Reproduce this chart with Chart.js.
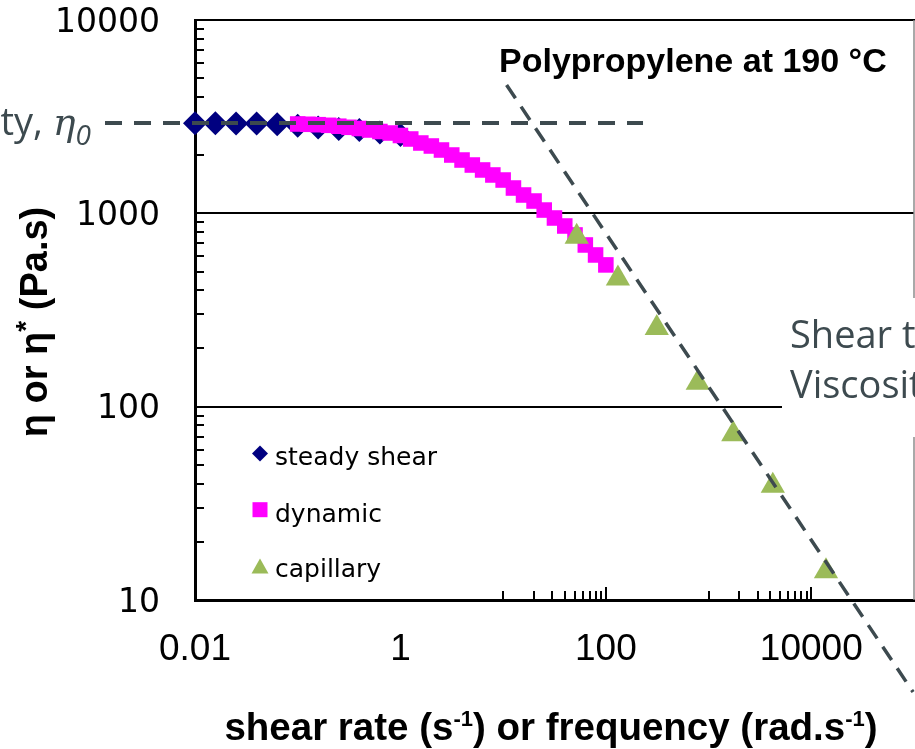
<!DOCTYPE html>
<html><head><meta charset="utf-8">
<script src="https://cdn.jsdelivr.net/npm/chart.js@4.4.0/dist/chart.umd.min.js"></script>
<style>html,body{margin:0;padding:0;background:#fff;overflow:hidden}#wrap{position:relative;width:915px;height:749px}</style>
</head><body><div id="wrap"><canvas id="c"></canvas></div>
<script>
// ---- data ----
const seriesNames = ['steady shear', 'dynamic', 'capillary'];
const steadyRate = [0.01, 0.0158, 0.0251, 0.0398, 0.0631, 0.1, 0.158, 0.251, 0.398, 0.631, 1];
const steadyVisc = [2922, 2922, 2918, 2911, 2891, 2836, 2780, 2731, 2698, 2619, 2542];
const dynamicFreq = [0.1, 0.126, 0.158, 0.2, 0.251, 0.316, 0.398, 0.501, 0.631, 0.794, 1, 1.26, 1.58, 2, 2.51, 3.16, 3.98, 5.01, 6.31, 7.94, 10, 12.6, 15.8, 20, 25.1, 31.6, 39.8, 50.1, 63.1, 79.4, 100];
const dynamicVisc = [2898, 2888, 2874, 2853, 2823, 2786, 2747, 2698, 2650, 2603, 2527, 2424, 2311, 2230, 2126, 2003, 1887, 1778, 1676, 1579, 1487, 1352, 1244, 1158, 1040, 946, 860, 773, 686, 609, 541];
const capRate = [52, 131, 313, 785, 1740, 4220, 13900];
const capVisc = [757, 460, 255, 133, 72, 39, 14.1];
const zeroShearX = [0.00133, 230];
const zeroShearY = [2930, 2930];
const powerLawX = [10.8, 98000];
const powerLawY = [4610, 3.34];
const xTickValues = [0.01, 1, 100, 10000];
const xTickLabels = ['0.01', '1', '100', '10000'];
const yTickValues = [10, 100, 1000, 10000];
const yTickLabels = ['10', '100', '1000', '10000'];
const xMinorDecades = [10, 1000];
const yMinorDecades = [10, 100, 1000];
const titleText = 'Polypropylene at 190 \u00B0C';
const zeroShearLabel = 'Zero shear viscosity, ';
const thinningLines = ['Shear thinning', 'Viscosity'];

const annColor = '#3d4a4f';
const colors = ['#000080', '#FF00FF', '#9BBB59'];

const pts = (xs, ys) => xs.map((v, i) => ({x: v, y: ys[i]}));

function drawRuns(ctx, runs, x, y, align) {
  let total = 0;
  for (const r of runs) { ctx.font = r.font; r.w = ctx.measureText(r.text).width; total += r.w; }
  let cx = align === 'right' ? x - total : align === 'center' ? x - total / 2 : x;
  ctx.textAlign = 'left';
  ctx.textBaseline = 'alphabetic';
  for (const r of runs) { ctx.font = r.font; ctx.fillText(r.text, cx, y + (r.dy || 0)); cx += r.w; }
}

const noPad = s => { s.paddingTop = 0; s.paddingBottom = 0; s.paddingLeft = 0; s.paddingRight = 0; };

const deco = {
  id: 'deco',
  beforeDatasetsDraw(chart) {
    const {ctx, chartArea: a, scales: {x, y}} = chart;
    ctx.save();
    ctx.strokeStyle = '#000'; ctx.lineWidth = 2;
    ctx.beginPath(); ctx.moveTo(a.left, a.top); ctx.lineTo(a.right + 1, a.top); ctx.stroke();
    ctx.strokeStyle = '#8c8c8c'; ctx.lineWidth = 1.5;
    ctx.beginPath(); ctx.moveTo(a.right, a.top); ctx.lineTo(a.right, a.bottom); ctx.stroke();
    ctx.strokeStyle = '#000'; ctx.lineWidth = 2;
    ctx.beginPath();
    for (const d of yMinorDecades) for (let k = 2; k <= 9; k++) {
      const py = Math.round(y.getPixelForValue(d * k));
      ctx.moveTo(a.left, py); ctx.lineTo(a.left + 9, py);
    }
    for (const d of xMinorDecades) for (let k = 1; k <= 10; k++) {
      const px = Math.round(x.getPixelForValue(d * k));
      const len = k === 10 ? 13 : 9;
      ctx.moveTo(px, a.bottom); ctx.lineTo(px, a.bottom - len);
    }
    ctx.stroke();
    ctx.restore();
  },
  afterDraw(chart) {
    const {ctx} = chart;
    ctx.save();
    // text box background for shear thinning label
    ctx.fillStyle = '#fff';
    ctx.fillRect(782, 298, 140, 139);
    ctx.fillStyle = annColor;
    ctx.font = '38px "Open Sans"';
    ctx.textAlign = 'left'; ctx.textBaseline = 'alphabetic';
    ctx.fillText(thinningLines[0], 790, 348);
    ctx.fillText(thinningLines[1], 790, 398);
    // zero shear label
    drawRuns(ctx, [
      {text: zeroShearLabel, font: '38px "Open Sans"'},
      {text: '\u03B7', font: 'italic 38px "DejaVu Serif"'},
      {text: '0', font: 'italic 28px "Open Sans"', dy: 10}
    ], 91, 135, 'right');
    // title
    ctx.fillStyle = '#000';
    drawRuns(ctx, [{text: titleText, font: 'bold 34px "Liberation Sans"'}], 499, 72, 'left');
    // x axis title
    drawRuns(ctx, [
      {text: 'shear rate (s', font: 'bold 38.5px "Liberation Sans"'},
      {text: '-1', font: 'bold 22px "Liberation Sans"', dy: -14},
      {text: ') or frequency (rad.s', font: 'bold 38.5px "Liberation Sans"'},
      {text: '-1', font: 'bold 22px "Liberation Sans"', dy: -14},
      {text: ')', font: 'bold 38.5px "Liberation Sans"'}
    ], 551, 740, 'center');
    // y axis title
    ctx.save();
    ctx.translate(47, 322);
    ctx.rotate(-Math.PI / 2);
    drawRuns(ctx, [
      {text: '\u03B7 or \u03B7', font: 'bold 38px "Liberation Sans"'},
      {text: '*', font: 'bold 28px "Liberation Sans"', dy: -12},
      {text: ' (Pa.s)', font: 'bold 38px "Liberation Sans"'}
    ], 0, 0, 'center');
    ctx.restore();
    // legend
    const lx = 260, rows = [453.5, 509.7, 566.5], base = [465, 522, 577];
    ctx.fillStyle = colors[0];
    ctx.beginPath(); ctx.moveTo(lx - 8, rows[0]); ctx.lineTo(lx, rows[0] - 8); ctx.lineTo(lx + 8, rows[0]); ctx.lineTo(lx, rows[0] + 8); ctx.closePath(); ctx.fill();
    ctx.fillStyle = colors[1];
    ctx.fillRect(lx - 7.5, rows[1] - 7.5, 15, 15);
    ctx.fillStyle = colors[2];
    ctx.beginPath(); ctx.moveTo(lx, rows[2] - 8); ctx.lineTo(lx + 8.5, rows[2] + 7); ctx.lineTo(lx - 8.5, rows[2] + 7); ctx.closePath(); ctx.fill();
    ctx.fillStyle = '#000';
    ctx.font = '25px "DejaVu Sans"';
    ctx.textAlign = 'left'; ctx.textBaseline = 'alphabetic';
    seriesNames.forEach((n, i) => ctx.fillText(n, 275, base[i]));
    ctx.restore();
  }
};

new Chart(document.getElementById('c'), {
  type: 'scatter',
  data: {
    datasets: [
      {label: 'zero shear', data: pts(zeroShearX, zeroShearY), showLine: true, borderColor: annColor, borderWidth: 4, borderDash: [17, 12], pointRadius: 0, clip: false, order: 0},
      {label: 'power law', data: pts(powerLawX, powerLawY), showLine: true, borderColor: annColor, borderWidth: 3.5, borderDash: [16, 10], pointRadius: 0, clip: false, order: 0},
      {label: seriesNames[2], data: pts(capRate, capVisc), pointStyle: 'triangle', pointRadius: 14, backgroundColor: colors[2], borderWidth: 0, clip: false, order: 1},
      {label: seriesNames[1], data: pts(dynamicFreq, dynamicVisc), pointStyle: 'rect', pointRadius: 11, backgroundColor: colors[1], borderWidth: 0, clip: false, order: 2},
      {label: seriesNames[0], data: pts(steadyRate, steadyVisc), pointStyle: 'rectRot', pointRadius: 12, backgroundColor: colors[0], borderWidth: 0, clip: false, order: 3}
    ]
  },
  options: {
    responsive: true, maintainAspectRatio: false, animation: false, events: [],
    layout: {autoPadding: false, padding: {left: 0, right: 1, top: 20, bottom: 0}},
    plugins: {legend: {display: false}, tooltip: {enabled: false}, title: {display: false}},
    scales: {
      x: {
        type: 'logarithmic', min: 0.01, max: 100000, position: 'bottom',
        afterBuildTicks: s => { s.ticks = xTickValues.map(v => ({value: v})); },
        afterFit: s => { s.height = 149; noPad(s); },
        grid: {display: false, drawTicks: false},
        border: {display: true, color: '#000', width: 3},
        ticks: {autoSkip: false, maxRotation: 0, padding: 28, color: '#000',
          font: {family: 'Liberation Sans', size: 37, lineHeight: 1.2},
          callback: v => { const i = xTickValues.indexOf(v); return i >= 0 ? xTickLabels[i] : ''; }}
      },
      y: {
        type: 'logarithmic', min: 10, max: 10000, position: 'left',
        afterBuildTicks: s => { s.ticks = yTickValues.map(v => ({value: v})); },
        afterFit: s => { s.width = 195; noPad(s); },
        grid: {display: true, drawTicks: false, lineWidth: 2,
          color: c => (c.tick && (c.tick.value === 100 || c.tick.value === 1000)) ? '#000' : 'rgba(0,0,0,0)'},
        border: {display: true, color: '#000', width: 3},
        ticks: {autoSkip: false, padding: 35, color: '#000', labelOffset: 3,
          font: {family: 'DejaVu Sans', size: 33, lineHeight: 1.2},
          callback: v => { const i = yTickValues.indexOf(v); return i >= 0 ? yTickLabels[i] : ''; }}
      }
    }
  },
  plugins: [deco]
});
</script>
</body></html>
